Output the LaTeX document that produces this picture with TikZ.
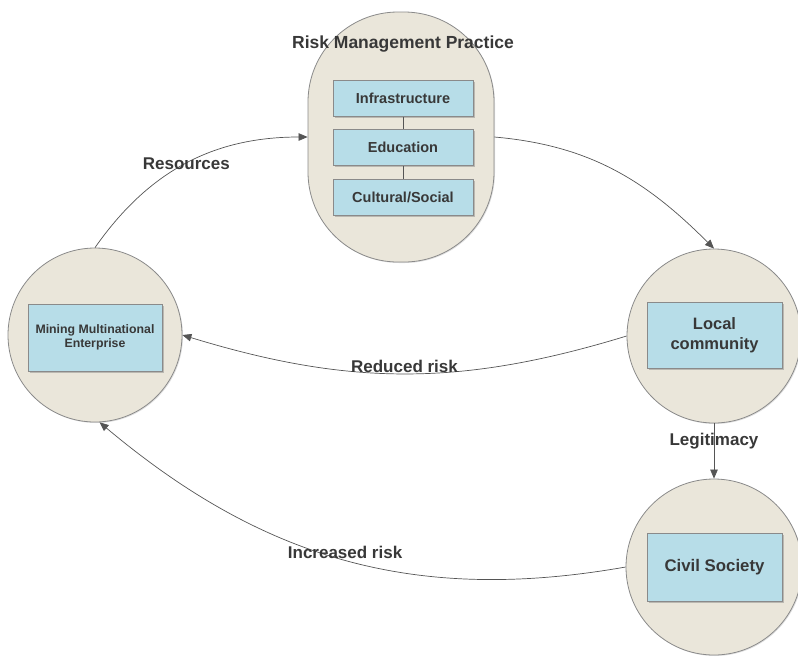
\documentclass[tikz,border=0pt]{standalone}
\usepackage{fontspec}
\setmainfont{Liberation Sans}
\usetikzlibrary{arrows.meta,shadows}
\definecolor{beige}{HTML}{EAE6DA}
\definecolor{boxblue}{HTML}{B7DDE8}
\definecolor{edgegray}{HTML}{8A8A8A}
\definecolor{linegray}{HTML}{555555}
\definecolor{txt}{HTML}{383838}
\tikzset{
  circ/.style={circle, draw=edgegray, line width=0.8pt, fill=beige, minimum size=#1, inner sep=0pt,
    drop shadow={shadow xshift=1pt, shadow yshift=-1pt, opacity=0.25}},
  oval/.style={rectangle, rounded corners=90pt, draw=edgegray, line width=0.8pt, fill=beige,
    minimum width=186pt, minimum height=250pt, inner sep=0pt,
    drop shadow={shadow xshift=1pt, shadow yshift=-1pt, opacity=0.25}},
  bbox/.style={rectangle, draw=edgegray, line width=1pt, fill=boxblue, align=center, inner sep=0pt,
    text=txt, font=\bfseries,
    drop shadow={shadow xshift=1.5pt, shadow yshift=-1.5pt, opacity=0.45}},
  conn/.style={draw=linegray, line width=0.7pt, -{Triangle[length=9pt,width=7.5pt]}},
  lbl/.style={text=txt, font=\fontsize{17}{19}\selectfont\bfseries, inner sep=1pt},
}
\begin{document}
\begin{tikzpicture}[x=1pt,y=-1pt]
\useasboundingbox (0,0) rectangle (798,657);
% main containers
\node[oval] (rmp) at (401,137) {};
\node[circ=174pt] (mme) at (95,335) {};
\node[circ=174pt] (loc) at (714,336) {};
\node[circ=176pt] (civ) at (714,567) {};
% title
\node[lbl, font=\fontsize{17.5}{19}\selectfont\bfseries] (title) at (403,44) {Risk Management Practice};
% inner boxes
\node[bbox, minimum width=140pt, minimum height=36pt, font=\fontsize{14.5}{16}\selectfont\bfseries] (infra) at (403,98) {Infrastructure};
\node[bbox, minimum width=140pt, minimum height=36pt, font=\fontsize{14.5}{16}\selectfont\bfseries] (edu) at (403,147.5) {Education};
\node[bbox, minimum width=140pt, minimum height=36pt, font=\fontsize{14.5}{16}\selectfont\bfseries] (cult) at (403,197) {Cultural/Social};
\draw[draw=linegray, line width=0.7pt] (infra) -- (edu);
\draw[draw=linegray, line width=0.7pt] (edu) -- (cult);
\node[bbox, minimum width=134pt, minimum height=67pt, font=\fontsize{12.3}{14}\selectfont\bfseries] (mmebox) at (95,337.5) {Mining Multinational\\Enterprise};
\node[bbox, minimum width=135pt, minimum height=66pt, font=\fontsize{16.5}{19.5}\selectfont\bfseries] (locbox) at (714.5,335) {Local\\community};
\node[bbox, minimum width=135pt, minimum height=68pt, font=\fontsize{16.8}{19.5}\selectfont\bfseries] (civbox) at (714.5,567) {Civil Society};
% connectors
\draw[conn] (mme.north) to[out=55,in=180] node[lbl, pos=0.5] {Resources} (rmp.west);
\draw[conn] (rmp.east) to[out=-5,in=135] (loc.north);
\draw[conn] (loc.west) to[out=197,in=-17] node[lbl, pos=0.5, anchor=south] {Reduced risk} (mme.east);
\draw[conn] (civ.west) to[out=190,in=-40] node[lbl, pos=0.5, anchor=south] {Increased risk} (mme.-87);
\draw[conn] (loc.south) -- node[lbl, pos=0.32] {Legitimacy} (civ.north);
\end{tikzpicture}
\end{document}
